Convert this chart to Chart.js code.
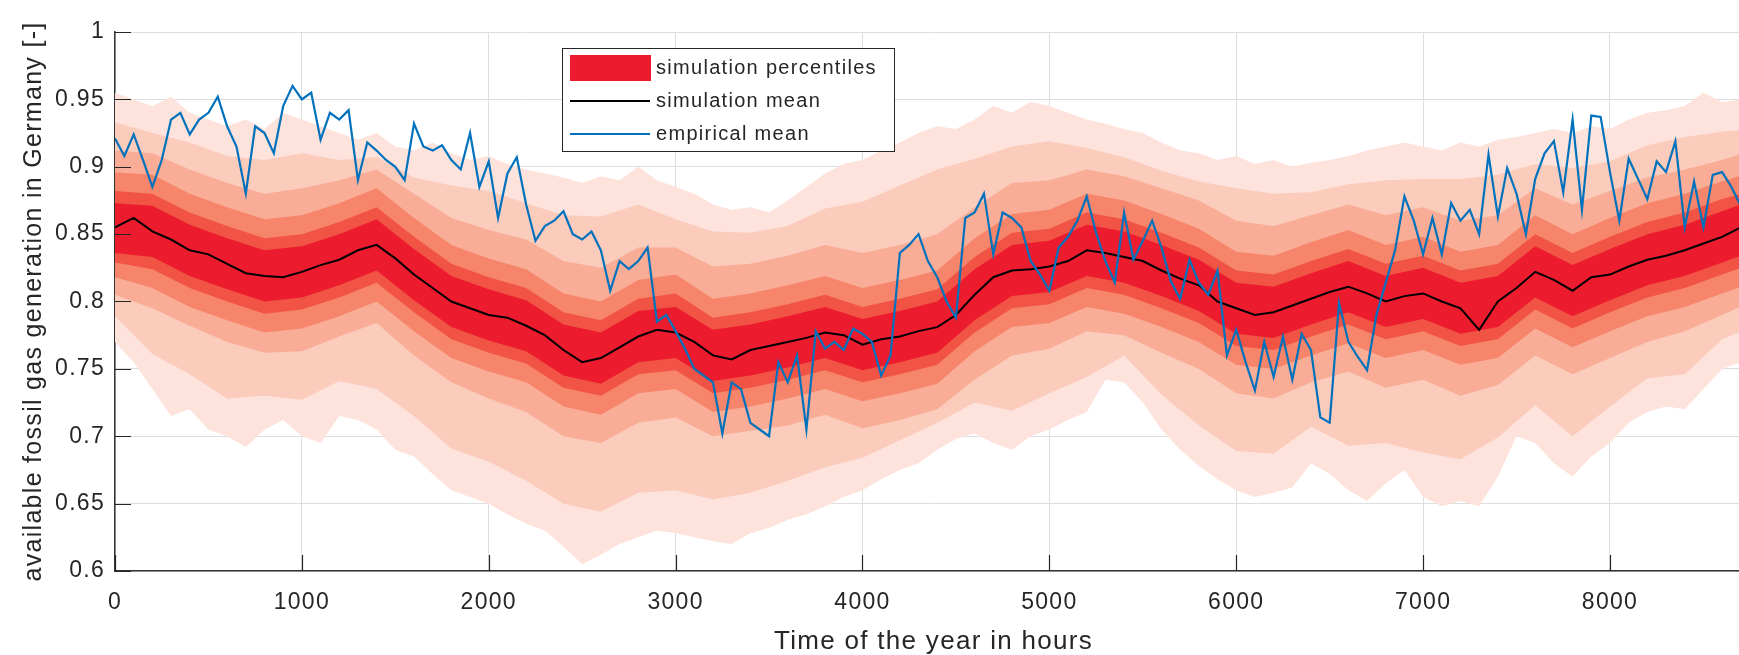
<!DOCTYPE html>
<html>
<head>
<meta charset="utf-8">
<script src="https://cdn.jsdelivr.net/npm/chart.js@4.4.1/dist/chart.umd.min.js"></script>
<style>
html, body { margin: 0; padding: 0; background: #fff; overflow: hidden; }
#wrap { position: relative; width: 1760px; height: 655px; }
</style>
</head>
<body>
<div id="wrap"><canvas id="chart"></canvas></div>
<script>
// x positions (hours of the year) used by the series below
var hours50 = steps(0, 50, 176);
var hours100 = steps(0, 100, 88).concat([8760]);
var hours200 = steps(0, 200, 44).concat([8760]);

var xTicks = [0, 1000, 2000, 3000, 4000, 5000, 6000, 7000, 8000];
var xTickLabels = ['0', '1000', '2000', '3000', '4000', '5000', '6000', '7000', '8000'];
var yTicks = [0.6, 0.65, 0.7, 0.75, 0.8, 0.85, 0.9, 0.95, 1];
var yTickLabels = ['0.6', '0.65', '0.7', '0.75', '0.8', '0.85', '0.9', '0.95', '1'];

var xTitle = 'Time of the year in hours';
var yTitle = 'available fossil gas generation in Germany [-]';
var legendLabels = ['simulation percentiles', 'simulation mean', 'empirical mean'];

// simulation mean, every 100 h
var simMean = [.855,.862,.852,.846,.838,.835,.828,.821,.819,.818,
  .822,.827,.831,.838,.842,.832,.820,.810,.800,.795,
  .790,.788,.782,.775,.764,.755,.758,.766,.774,.779,
  .777,.770,.760,.757,.764,.767,.770,.773,.777,.775,
  .768,.772,.774,.778,.781,.790,.805,.818,.823,.824,
  .826,.830,.838,.836,.833,.830,.823,.817,.812,.800,
  .795,.790,.792,.797,.802,.807,.811,.806,.800,.804,
  .806,.800,.795,.779,.800,.810,.822,.816,.808,.818,
  .820,.826,.831,.834,.838,.843,.848,.855,.856];

// empirical mean, every 50 h
var empMean = [.921,.908,.924,.905,.885,.905,.935,.940,.924,.935,
  .940,.952,.930,.915,.880,.930,.925,.910,.945,.960,
  .950,.955,.920,.940,.935,.942,.890,.918,.912,.905,
  .900,.890,.932,.915,.912,.916,.905,.898,.925,.885,
  .904,.862,.895,.907,.872,.845,.856,.860,.867,.850,
  .846,.852,.838,.808,.830,.824,.830,.840,.785,.790,
  .778,.765,.750,.745,.740,.702,.740,.735,.710,.705,
  .700,.755,.740,.760,.705,.778,.765,.770,.764,.780,
  .776,.770,.745,.760,.836,.842,.850,.830,.818,.800,
  .788,.862,.866,.880,.835,.866,.862,.855,.830,.820,
  .808,.840,.848,.860,.878,.851,.830,.814,.866,.831,
  .845,.860,.840,.815,.802,.831,.814,.805,.823,.760,
  .779,.755,.734,.770,.744,.774,.742,.776,.764,.714,
  .710,.799,.770,.759,.749,.790,.814,.838,.878,.860,
  .835,.862,.835,.873,.860,.868,.850,.909,.863,.899,
  .880,.850,.891,.910,.919,.881,.935,.868,.938,.937,
  .896,.860,.906,.891,.876,.904,.896,.919,.855,.889,
  .855,.894,.896,.885,.871,.880];

// outermost percentile band, every 100 h
var band1Upper = [.955,.950,.945,.952,.940,.935,.930,.935,.928,.940,
  .935,.930,.925,.920,.925,.915,.912,.918,.910,.905,
  .908,.902,.898,.895,.892,.888,.893,.890,.900,.890,
  .885,.880,.872,.868,.870,.866,.875,.885,.895,.902,
  .905,.912,.918,.925,.930,.928,.935,.945,.940,.948,
  .945,.940,.935,.932,.928,.925,.918,.912,.910,.905,
  .908,.902,.905,.900,.903,.905,.908,.912,.915,.918,
  .915,.912,.918,.915,.920,.922,.925,.928,.925,.930,
  .928,.935,.940,.942,.945,.955,.948,.950,.948];
var band1Lower = [.770,.755,.735,.715,.720,.705,.700,.692,.705,.712,
  .700,.695,.715,.712,.705,.690,.685,.672,.660,.655,
  .650,.642,.635,.630,.618,.605,.612,.620,.625,.630,
  .628,.625,.622,.620,.628,.632,.638,.642,.648,.655,
  .660,.668,.675,.680,.690,.698,.702,.695,.690,.700,
  .705,.712,.718,.742,.740,.725,.705,.690,.678,.668,
  .660,.655,.658,.662,.680,.672,.660,.652,.665,.675,
  .655,.648,.652,.648,.670,.700,.695,.680,.670,.685,
  .695,.710,.718,.722,.720,.735,.750,.755,.760];

// inner percentile bands, every 200 h
var band2Upper = [.933,.925,.918,.908,.905,.910,.905,.907,.892,.886,.882,.873,.864,.863,.872,.861,.852,.851,.856,.869,.874,.886,.898,.906,.915,.919,.914,.907,.897,.889,.884,.880,.881,.887,.890,.891,.891,.894,.902,.899,.904,.916,.922,.926,.928];
var band2Lower = [.789,.761,.746,.728,.730,.727,.741,.735,.715,.691,.681,.667,.650,.644,.658,.660,.653,.658,.667,.677,.684,.697,.710,.725,.719,.732,.744,.760,.731,.708,.689,.687,.707,.693,.695,.688,.683,.699,.723,.700,.722,.743,.746,.772,.781];
var band3Upper = [.912,.910,.898,.888,.880,.884,.890,.898,.880,.862,.853,.846,.830,.825,.840,.840,.826,.828,.834,.842,.836,.842,.850,.870,.888,.890,.898,.893,.884,.875,.860,.856,.864,.872,.864,.870,.860,.864,.884,.872,.882,.892,.898,.905,.912];
var band3Lower = [.805,.795,.782,.770,.762,.763,.774,.784,.760,.740,.728,.718,.700,.695,.710,.714,.700,.704,.708,.716,.706,.712,.720,.742,.760,.765,.778,.775,.762,.750,.732,.728,.740,.748,.736,.742,.730,.738,.760,.746,.758,.770,.778,.790,.800];
var band4Upper = [.896,.894,.880,.870,.861,.864,.873,.884,.862,.842,.832,.824,.806,.800,.816,.820,.802,.806,.812,.819,.810,.816,.823,.847,.865,.868,.880,.875,.865,.854,.837,.834,.844,.853,.842,.848,.837,.842,.864,.850,.862,.873,.880,.889,.896];
var band4Lower = [.818,.810,.796,.786,.777,.780,.789,.800,.778,.758,.748,.740,.722,.716,.732,.735,.718,.722,.728,.735,.726,.732,.739,.763,.781,.784,.796,.791,.781,.770,.753,.750,.760,.769,.758,.764,.753,.758,.780,.766,.778,.789,.796,.806,.814];
var band5Upper = [.882,.880,.866,.856,.847,.850,.859,.870,.848,.828,.818,.810,.792,.786,.802,.806,.788,.792,.798,.805,.796,.802,.809,.833,.851,.854,.866,.861,.851,.840,.823,.820,.830,.839,.828,.834,.823,.828,.850,.836,.848,.859,.866,.876,.882];
var band5Lower = [.829,.824,.810,.800,.791,.794,.803,.814,.792,.772,.762,.754,.736,.730,.746,.749,.732,.736,.742,.749,.740,.746,.753,.777,.795,.798,.810,.805,.795,.784,.767,.764,.774,.783,.772,.778,.767,.772,.794,.780,.792,.803,.810,.820,.828];
var band6Upper = [.873,.871,.857,.847,.838,.841,.850,.861,.839,.819,.809,.801,.783,.777,.793,.796,.779,.783,.789,.796,.787,.793,.800,.824,.842,.845,.857,.852,.842,.831,.814,.811,.821,.830,.819,.825,.814,.819,.841,.827,.839,.850,.857,.867,.875];
var band6Lower = [.836,.833,.819,.809,.800,.803,.812,.823,.801,.781,.771,.763,.745,.739,.755,.758,.741,.745,.751,.758,.749,.755,.762,.786,.804,.807,.819,.814,.804,.793,.776,.773,.783,.792,.781,.787,.776,.781,.803,.789,.801,.812,.819,.829,.837];

var bandColors = ['#fde3dc', '#fbcbbc', '#f9ad96', '#f6856c', '#f15444', '#ec1c2e'];

function steps(start, step, n) {
    var out = [];
    for (var i = 0; i < n; i++) out.push(start + i * step);
    return out;
}

function pts(xs, ys) {
    return xs.map(function (x, i) { return { x: x, y: ys[i] }; });
}

var bands = [
    { hours: hours100, hi: band1Upper, lo: band1Lower },
    { hours: hours200, hi: band2Upper, lo: band2Lower },
    { hours: hours200, hi: band3Upper, lo: band3Lower },
    { hours: hours200, hi: band4Upper, lo: band4Lower },
    { hours: hours200, hi: band5Upper, lo: band5Lower },
    { hours: hours200, hi: band6Upper, lo: band6Lower }
];

var datasets = [];
bands.forEach(function (b, k) {
    datasets.push({ data: pts(b.hours, b.lo), borderWidth: 0, pointRadius: 0, fill: false, order: 10 - k });
    datasets.push({ data: pts(b.hours, b.hi), borderWidth: 0, pointRadius: 0, fill: '-1',
        backgroundColor: bandColors[k], order: 10 - k });
});
datasets.push({ data: pts(hours100, simMean), borderColor: '#000000', borderWidth: 2, pointRadius: 0, fill: false, order: 1 });
datasets.push({ data: pts(hours50, empMean), borderColor: '#0072bd', borderWidth: 2.2, pointRadius: 0, fill: false, order: 0 });

var textColor = '#262626';

var spacing = {
    id: 'spacing',
    beforeLayout: function (chart) { chart.ctx.letterSpacing = '1.3px'; },
    beforeDraw: function (chart) { chart.ctx.letterSpacing = '1.3px'; }
};

// matlab style ticks pointing into the axes
var innerTicks = {
    id: 'innerTicks',
    afterDatasetsDraw: function (chart) {
        var ctx = chart.ctx, a = chart.chartArea, xs = chart.scales.x, ys = chart.scales.y;
        ctx.save();
        ctx.strokeStyle = textColor;
        ctx.lineWidth = 1.2;
        ctx.beginPath();
        xTicks.forEach(function (v) {
            var px = Math.round(xs.getPixelForValue(v)) + 0.5;
            ctx.moveTo(px, a.bottom);
            ctx.lineTo(px, a.bottom - 16);
        });
        yTicks.forEach(function (v) {
            var py = Math.round(ys.getPixelForValue(v)) + 0.5;
            ctx.moveTo(a.left, py);
            ctx.lineTo(a.left + 16, py);
        });
        ctx.stroke();
        ctx.restore();
    }
};

var boxLegend = {
    id: 'boxLegend',
    afterDraw: function (chart) {
        var ctx = chart.ctx, a = chart.chartArea;
        var x = a.left + 447, y = a.top + 16, w = 332, h = 103;
        ctx.save();
        ctx.fillStyle = '#ffffff';
        ctx.fillRect(x, y, w, h);
        ctx.strokeStyle = textColor;
        ctx.lineWidth = 1;
        ctx.strokeRect(x + 0.5, y + 0.5, w, h);

        ctx.fillStyle = bandColors[5];
        ctx.fillRect(x + 8, y + 7, 81, 26);

        ctx.lineWidth = 2;
        ctx.strokeStyle = '#000000';
        ctx.beginPath(); ctx.moveTo(x + 8, y + 53); ctx.lineTo(x + 88, y + 53); ctx.stroke();
        ctx.strokeStyle = '#0072bd';
        ctx.beginPath(); ctx.moveTo(x + 8, y + 86); ctx.lineTo(x + 88, y + 86); ctx.stroke();

        ctx.fillStyle = textColor;
        ctx.font = '20px "Liberation Sans", Arial, sans-serif';
        ctx.textBaseline = 'middle';
        ctx.textAlign = 'left';
        ctx.fillText(legendLabels[0], x + 94, y + 20);
        ctx.fillText(legendLabels[1], x + 94, y + 53);
        ctx.fillText(legendLabels[2], x + 94, y + 86);
        ctx.restore();
    }
};

Chart.defaults.font.family = '"Liberation Sans", Arial, sans-serif';
Chart.defaults.color = textColor;

var ctx = document.getElementById('chart').getContext('2d');
window.gasChart = new Chart(ctx, {
    type: 'line',
    data: { datasets: datasets },
    options: {
        responsive: true,
        maintainAspectRatio: false,
        devicePixelRatio: 1,
        animation: false,
        elements: { line: { tension: 0 } },
        layout: { padding: { top: 32, right: 8, left: 0, bottom: 0 } },
        plugins: {
            legend: { display: false },
            tooltip: { enabled: false }
        },
        scales: {
            x: {
                type: 'linear',
                min: 0,
                max: 8760,
                afterBuildTicks: function (s) { s.ticks = xTicks.map(function (v) { return { value: v }; }); },
                afterFit: function (s) { s.height = 84; },
                grid: { color: '#dedede', drawTicks: false },
                border: { color: '#333333', width: 1.5 },
                ticks: {
                    padding: 18,
                    maxRotation: 0,
                    autoSkip: false,
                    color: textColor,
                    font: { size: 23 },
                    callback: function (v, i) { return xTickLabels[i]; }
                },
                title: { display: true, text: xTitle, color: textColor, font: { size: 26 }, padding: { top: 0, bottom: -2 } }
            },
            y: {
                min: 0.6,
                max: 1,
                afterBuildTicks: function (s) { s.ticks = yTicks.map(function (v) { return { value: v }; }); },
                afterFit: function (s) { s.width = 115; },
                grid: { color: '#dedede', drawTicks: false },
                border: { color: '#333333', width: 1.5 },
                ticks: {
                    padding: 10,
                    color: textColor,
                    font: { size: 23 },
                    callback: function (v, i) { return yTickLabels[i]; }
                },
                title: { display: true, text: yTitle, color: textColor, font: { size: 25 }, padding: { top: 19, bottom: 0 } }
            }
        }
    },
    plugins: [spacing, innerTicks, boxLegend]
});
</script>
</body>
</html>
